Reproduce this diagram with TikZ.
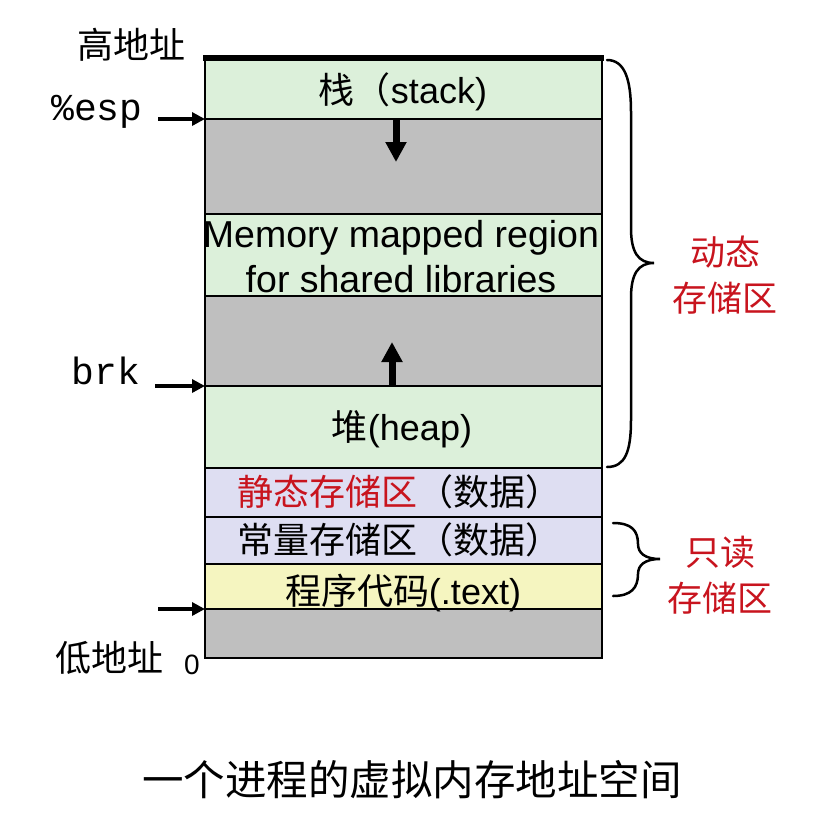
\documentclass[tikz,border=0pt]{standalone}
\usepackage{fontspec}
\setmainfont{Liberation Sans}
\setmonofont{Liberation Mono}
\newfontfamily\cjk{Noto Sans CJK SC}
\usetikzlibrary{arrows.meta}
\definecolor{segGreen}{RGB}{220,240,218}
\definecolor{segGray}{RGB}{191,191,191}
\definecolor{segLav}{RGB}{222,222,242}
\definecolor{segYel}{RGB}{245,245,192}
\definecolor{labRed}{RGB}{200,20,30}
\begin{document}
\begin{tikzpicture}[x=1pt,y=-1pt,
  seg/.style={draw=black, line width=2pt, rectangle, anchor=north west,
    minimum width=397pt, inner sep=0pt, outer sep=0pt},
  boxtxt/.style={inner sep=0pt, font=\fontsize{35}{42}\selectfont},
  sidetxt/.style={inner sep=0pt, font=\cjk\fontsize{36}{40}\selectfont},
  redtxt/.style={inner sep=0pt, text=labRed, font=\cjk\fontsize{35}{46}\selectfont, align=center},
  monotxt/.style={inner sep=0pt, font=\ttfamily\fontsize{38}{40}\selectfont},
  ptrarrow/.style={line width=4pt, -{Triangle[width=13pt,length=13pt]}},
  blockarrow/.style={line width=7pt, -{Triangle[width=20pt,length=20pt]}},
  bracestyle/.style={line width=2.5pt, line cap=round}]
\useasboundingbox (0,0) rectangle (828,825);
% segments
\node[seg, fill=segGreen, minimum height=61pt] (seg1) at (205,58) {};
\node[seg, fill=segGray,  minimum height=95pt] (seg2) at (205,119) {};
\node[seg, fill=segGreen, minimum height=82pt] (seg3) at (205,214) {};
\node[seg, fill=segGray,  minimum height=90pt] (seg4) at (205,296) {};
\node[seg, fill=segGreen, minimum height=82pt] (seg5) at (205,386) {};
\node[seg, fill=segLav,   minimum height=49pt] (seg6) at (205,468) {};
\node[seg, fill=segLav,   minimum height=47pt] (seg7) at (205,517) {};
\node[seg, fill=segYel,   minimum height=45pt] (seg8) at (205,564) {};
\node[seg, fill=segGray,  minimum height=49pt] (seg9) at (205,609) {};
% top thick line
\draw[line width=6pt] (seg1.north west) ++(-2,0) coordinate (topL) -- (topL -| seg1.north east) -- ++(2,0);
% texts in segments
\node[boxtxt, anchor=base, font=\fontsize{36}{42}\selectfont] (tstack) at (403,103) {{\cjk 栈（}stack)};
\node[boxtxt, align=center, font=\fontsize{37.5}{45}\selectfont] (tmmap) at (401,257) {Memory mapped region\\for shared libraries};
\node[boxtxt, anchor=base, font=\fontsize{36}{42}\selectfont] (theap) at (402,440) {{\cjk 堆}(heap)};
\node[boxtxt, font=\cjk\fontsize{36}{42}\selectfont] (tstatic) at (399,492) {\textcolor{labRed}{静态存储区}（数据）};
\node[boxtxt, font=\cjk\fontsize{36}{42}\selectfont] (tconst) at (399,540) {常量存储区（数据）};
\node[boxtxt, anchor=base, font=\fontsize{36}{42}\selectfont] (ttext) at (403,604) {{\cjk 程序代码}(.text)};
% growth arrows
\coordinate (stackHead) at (396,162);
\draw[blockarrow] (stackHead |- seg2.north) -- (stackHead);
\coordinate (heapHead) at (392,342);
\draw[blockarrow] (heapHead |- seg5.north) -- (heapHead);
% left labels and pointers
\node[sidetxt] (hiaddr) at (131,45) {高地址};
\node[monotxt, anchor=base] (esp) at (97,120) {\%esp};
\node[monotxt, anchor=base] (brk) at (106,384) {brk};
\node[sidetxt] (loaddr) at (110,658) {低地址};
\node[inner sep=0pt, font=\fontsize{28}{30}\selectfont] (zero) at (192,665) {0};
\coordinate (espTail) at (158,119);
\draw[ptrarrow] (espTail) -- (seg1.south west);
\coordinate (brkTail) at (155,386);
\draw[ptrarrow] (brkTail) -- (seg5.north west);
\coordinate (textTail) at (158,609);
\draw[ptrarrow] (textTail) -- (seg8.south west);
% big brace
\draw[bracestyle] (607,60) .. controls (625,60) and (631,80) .. (631,112)
  -- (631,228) .. controls (631,252) and (638,263) .. (654,263)
  .. controls (638,263) and (631,274) .. (631,298)
  -- (631,420) .. controls (631,452) and (625,467) .. (607,467);
\node[redtxt] (dyn) at (725,275) {动态\\存储区};
% small brace
\draw[bracestyle] (613,523) .. controls (631,523) and (638,530) .. (638,544)
  .. controls (638,553) and (645,559) .. (660,559)
  .. controls (645,559) and (638,565) .. (638,574)
  .. controls (638,588) and (631,596) .. (613,596);
\node[redtxt] (ro) at (720,575) {只读\\存储区};
% caption
\node[inner sep=0pt, font=\cjk\fontsize{41.5}{46}\selectfont] (caption) at (412,780) {一个进程的虚拟内存地址空间};
\end{tikzpicture}
\end{document}
